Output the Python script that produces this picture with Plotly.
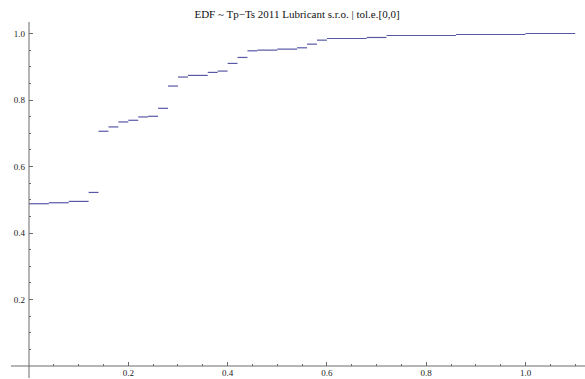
import plotly.graph_objects as go

# Step edges (x) and EDF value on each step
step_edges = [0.00, 0.04, 0.08, 0.12, 0.14, 0.16, 0.18, 0.20, 0.22, 0.24, 0.26,
              0.28, 0.30, 0.32, 0.36, 0.38, 0.40, 0.42, 0.44, 0.46, 0.50, 0.54,
              0.56, 0.58, 0.60, 0.68, 0.72, 0.86, 1.00, 1.10]
edf_values = [0.488, 0.491, 0.495, 0.522, 0.706, 0.719, 0.734, 0.739, 0.749,
              0.751, 0.775, 0.842, 0.869, 0.874, 0.883, 0.887, 0.910, 0.928,
              0.948, 0.950, 0.953, 0.957, 0.968, 0.980, 0.985, 0.988, 0.994,
              0.997, 1.000]
x_ticks = [0.2, 0.4, 0.6, 0.8, 1.0]
x_tick_labels = ["0.2", "0.4", "0.6", "0.8", "1.0"]
y_ticks = [0.2, 0.4, 0.6, 0.8, 1.0]
y_tick_labels = ["0.2", "0.4", "0.6", "0.8", "1.0"]
title_text = "EDF ~ Tp\u2212Ts 2011 Lubricant s.r.o. | tol.e.[0,0]"

xs, ys = [], []
for i, v in enumerate(edf_values):
    xs += [step_edges[i], step_edges[i + 1], None]
    ys += [v, v, None]

W, H = 585, 379
L, R, T, B = 29, 0, 22, 13
xscale = 496.5
yscale = 332.5
pw, ph = W - L - R, H - T - B

SERIF = "Liberation Serif"

fig = go.Figure()
fig.add_trace(go.Scatter(x=xs, y=ys, mode="lines",
                         line=dict(color="rgb(88,88,165)", width=1.2),
                         connectgaps=False, hoverinfo="skip", showlegend=False))

axis_color = "#6a6a6a"
tick_font = dict(family=SERIF, size=9, color="#222")

fig.update_layout(
    width=W, height=H,
    margin=dict(l=L, r=R, t=T, b=B, pad=0),
    plot_bgcolor="white", paper_bgcolor="white",
    font=dict(family=SERIF),
    title=dict(text=title_text, x=297 / W, xanchor="center",
               y=1 - 14.5 / H, yanchor="middle", yref="container",
               font=dict(family=SERIF, size=11, color="#111")),
    xaxis=dict(range=[0, pw / xscale], showgrid=False, zeroline=False,
               showline=False, tickmode="array", tickvals=x_ticks,
               ticktext=x_tick_labels, ticks="inside", ticklen=4,
               tickcolor=axis_color, tickfont=tick_font, automargin=False,
               minor=dict(dtick=0.05, tick0=0, ticks="inside", ticklen=2,
                          tickcolor=axis_color, showgrid=False)),
    yaxis=dict(range=[0, ph / yscale], showgrid=False, zeroline=False,
               showline=False, tickmode="array", tickvals=y_ticks,
               ticktext=y_tick_labels, ticks="inside", ticklen=4,
               tickcolor=axis_color, tickfont=tick_font, automargin=False,
               ticklabelstandoff=3,
               minor=dict(dtick=0.05, tick0=0, ticks="inside", ticklen=2,
                          tickcolor=axis_color, showgrid=False)),
    shapes=[
        dict(type="line", xref="paper", yref="paper",
             x0=(11 - L) / pw, x1=1.0, y0=0, y1=0,
             line=dict(color=axis_color, width=1)),
        dict(type="line", xref="paper", yref="paper",
             x0=0, x1=0, y0=(H - B - 378) / ph, y1=1.0,
             line=dict(color=axis_color, width=1)),
    ],
)

fig.write_html("out.html")
